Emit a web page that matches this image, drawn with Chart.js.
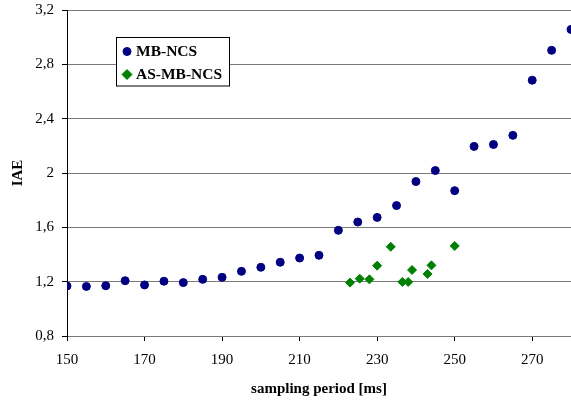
<!DOCTYPE html>
<html>
<head>
<meta charset="utf-8">
<script src="https://cdn.jsdelivr.net/npm/chart.js@4/dist/chart.umd.min.js"></script>
<style>
  html, body { margin: 0; padding: 0; background: #ffffff; }
  #wrap { width: 571px; height: 405px; }
</style>
</head>
<body>
<div id="wrap"><canvas id="c" width="571" height="405"></canvas></div>
<script>
// ---- data ----
const mbPeriods = [150,155,160,165,170,175,180,185,190,195,200,205,210,215,220,225,230,235,240,245,250,255,260,265,270,275,280];
const mbIAE     = [1.168,1.165,1.170,1.207,1.176,1.203,1.193,1.217,1.232,1.276,1.306,1.343,1.374,1.394,1.578,1.639,1.673,1.760,1.937,2.018,1.870,2.196,2.210,2.277,2.683,2.903,3.057];
const asPeriods = [223,225.5,228,230,233.5,236.5,238,239,243,244,250];
const asIAE     = [1.193,1.222,1.217,1.318,1.457,1.198,1.198,1.286,1.257,1.320,1.463];
const seriesNames = ['MB-NCS', 'AS-MB-NCS'];
const xTickValues = [150,170,190,210,230,250,270];
const yTickValues = [0.8,1.2,1.6,2.0,2.4,2.8,3.2];
const xTitle = 'sampling period [ms]';
const yTitle = 'IAE';

const NAVY = '#000080', GREEN = '#008000';
const FONT = "'Liberation Serif', 'Times New Roman', serif";

const toPts = (xs, ys) => xs.map((x, i) => ({x: x, y: ys[i]}));

const legendBox = {
  id: 'legendBox',
  afterDraw(chart) {
    const ctx = chart.ctx;
    const L = 116.5, T = 37.5, W = 113, H = 48.5;
    ctx.save();
    ctx.fillStyle = '#ffffff';
    ctx.fillRect(L, T, W, H);
    ctx.strokeStyle = '#000000';
    ctx.lineWidth = 1;
    ctx.strokeRect(L, T, W, H);
    const rows = [51.5, 74.5];
    chart.data.datasets.forEach((ds, i) => {
      const y = rows[i];
      ctx.fillStyle = ds.backgroundColor;
      ctx.strokeStyle = ds.borderColor;
      ctx.lineWidth = 1;
      ctx.beginPath();
      if (ds.pointStyle === 'circle') {
        ctx.arc(127, y, 4, 0, Math.PI * 2);
      } else {
        ctx.moveTo(122, y); ctx.lineTo(127, y - 5); ctx.lineTo(132, y); ctx.lineTo(127, y + 5); ctx.closePath();
      }
      ctx.fill(); ctx.stroke();
      ctx.fillStyle = '#000000';
      ctx.font = "bold 15.5px " + FONT;
      ctx.textAlign = 'left';
      ctx.textBaseline = 'middle';
      ctx.fillText(ds.label, 136, y + 0.5);
    });
    ctx.restore();
  }
};

new Chart(document.getElementById('c'), {
  type: 'scatter',
  data: {
    datasets: [
      {
        label: seriesNames[0],
        data: toPts(mbPeriods, mbIAE),
        pointStyle: 'circle',
        pointRadius: 4,
        pointHoverRadius: 4,
        borderWidth: 1,
        backgroundColor: NAVY,
        borderColor: NAVY
      },
      {
        label: seriesNames[1],
        data: toPts(asPeriods, asIAE),
        pointStyle: 'rectRot',
        pointRadius: 4.5,
        pointHoverRadius: 4.5,
        borderWidth: 1,
        backgroundColor: GREEN,
        borderColor: GREEN
      }
    ]
  },
  options: {
    responsive: false,
    animation: false,
    layout: { autoPadding: false, padding: { top: 10, right: 0, bottom: 0, left: 0 } },
    plugins: {
      legend: { display: false },
      tooltip: { enabled: false }
    },
    scales: {
      x: {
        type: 'linear',
        min: 150,
        max: 280,
        afterBuildTicks: (s) => { s.ticks = xTickValues.map(v => ({value: v})); },
        afterFit: (s) => { s.height = 69; s.paddingLeft = 0; s.paddingRight = 0; },
        grid: { drawOnChartArea: false, drawTicks: true, tickLength: 5, tickColor: '#000000', tickWidth: 1 },
        border: { display: true, color: '#7a7a7a', width: 1 },
        ticks: {
          color: '#000000',
          padding: 10,
          maxRotation: 0,
          font: { family: FONT, size: 15 },
          callback: (v) => String(v)
        },
        title: {
          display: true,
          text: xTitle,
          color: '#000000',
          font: { family: FONT, size: 15, weight: 'bold' },
          padding: { top: 0, bottom: 6.5 }
        }
      },
      y: {
        type: 'linear',
        min: 0.8,
        max: 3.2,
        afterBuildTicks: (s) => { s.ticks = yTickValues.map(v => ({value: v})); },
        afterFit: (s) => { s.width = 67; s.paddingTop = 0; s.paddingBottom = 0; },
        grid: { color: '#7a7a7a', lineWidth: 1, drawTicks: true, tickLength: 5, tickColor: '#000000', tickWidth: 1 },
        border: { display: true, color: '#000000', width: 1 },
        ticks: {
          color: '#000000',
          padding: 8,
          font: { family: FONT, size: 15 },
          callback: (v) => String(Math.round(v * 10) / 10).replace('.', ',')
        },
        title: {
          display: true,
          text: yTitle,
          color: '#000000',
          font: { family: FONT, size: 15, weight: 'bold' },
          padding: { top: 9, bottom: 0 }
        }
      }
    }
  },
  plugins: [legendBox]
});
</script>
</body>
</html>
